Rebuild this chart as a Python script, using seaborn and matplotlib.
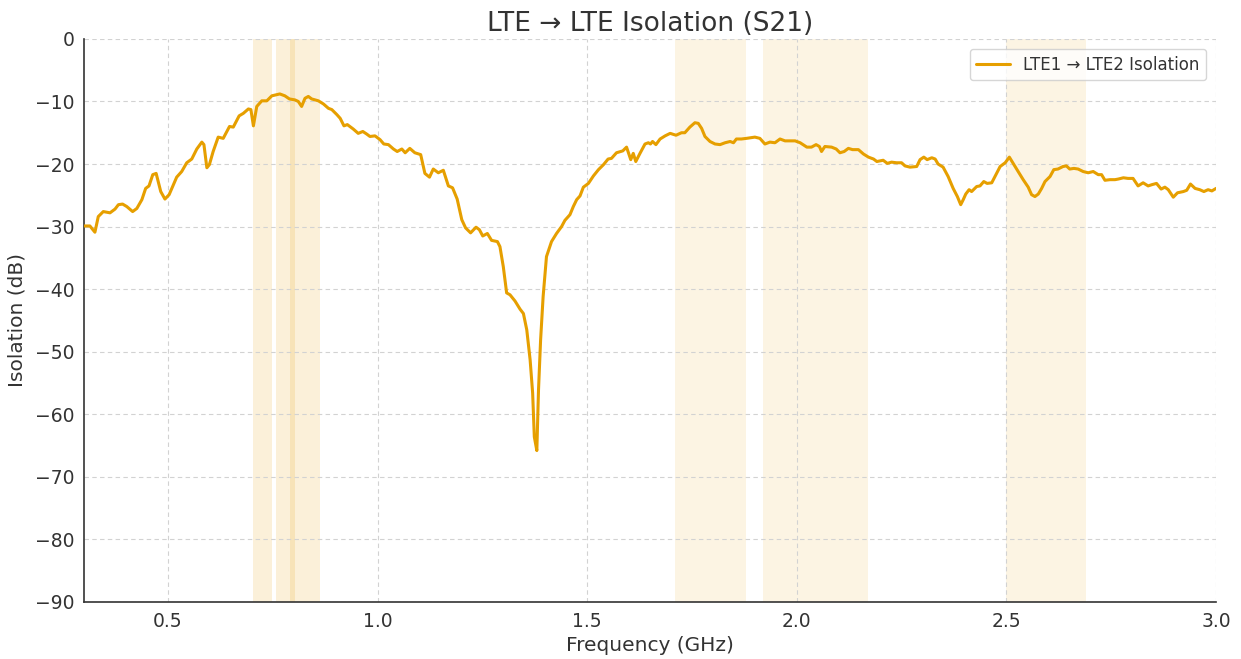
import numpy as np
import pandas as pd
import matplotlib
matplotlib.use("Agg")
import matplotlib.pyplot as plt
import seaborn as sns

# Frecuencia (GHz) y aislamiento (dB)
freq_ghz = [
    0.300, 0.314, 0.326, 0.334, 0.346, 0.362, 0.374, 0.382, 0.392, 0.402,
    0.416, 0.426, 0.438, 0.447, 0.455, 0.464, 0.472, 0.483, 0.493, 0.503,
    0.521, 0.533, 0.545, 0.557, 0.569, 0.581, 0.586, 0.593, 0.599, 0.608,
    0.620, 0.632, 0.647, 0.656, 0.670, 0.680, 0.692, 0.698, 0.704, 0.712,
    0.724, 0.736, 0.748, 0.767, 0.779, 0.790, 0.803, 0.811, 0.819, 0.827,
    0.835, 0.843, 0.859, 0.871, 0.883, 0.891, 0.903, 0.911, 0.920, 0.928,
    0.942, 0.954, 0.965, 0.974, 0.982, 0.994, 1.006, 1.015, 1.026, 1.038,
    1.047, 1.058, 1.066, 1.077, 1.089, 1.103, 1.113, 1.124, 1.133, 1.145,
    1.157, 1.169, 1.179, 1.190, 1.201, 1.210, 1.222, 1.235, 1.243, 1.251,
    1.262, 1.272, 1.286, 1.292, 1.300, 1.308, 1.316, 1.328, 1.340, 1.348,
    1.356, 1.364, 1.370, 1.374, 1.380, 1.384, 1.389, 1.395, 1.403, 1.415,
    1.427, 1.439, 1.447, 1.459, 1.467, 1.475, 1.483, 1.491, 1.503, 1.515,
    1.527, 1.539, 1.550, 1.558, 1.570, 1.585, 1.594, 1.604, 1.610, 1.616,
    1.626, 1.638, 1.646, 1.651, 1.656, 1.664, 1.674, 1.686, 1.698, 1.712,
    1.725, 1.733, 1.745, 1.757, 1.765, 1.773, 1.781, 1.793, 1.805, 1.817,
    1.829, 1.841, 1.849, 1.856, 1.868, 1.880, 1.900, 1.912, 1.924, 1.936,
    1.948, 1.960, 1.972, 1.984, 1.996, 2.008, 2.024, 2.035, 2.046, 2.054,
    2.059, 2.067, 2.083, 2.094, 2.103, 2.113, 2.123, 2.133, 2.147, 2.159,
    2.171, 2.183, 2.191, 2.206, 2.216, 2.226, 2.238, 2.250, 2.258, 2.270,
    2.286, 2.294, 2.303, 2.311, 2.322, 2.330, 2.337, 2.349, 2.361, 2.373,
    2.383, 2.391, 2.397, 2.403, 2.411, 2.417, 2.429, 2.437, 2.446, 2.454,
    2.465, 2.472, 2.485, 2.497, 2.507, 2.516, 2.528, 2.540, 2.552, 2.560,
    2.568, 2.576, 2.584, 2.592, 2.604, 2.613, 2.623, 2.635, 2.643, 2.651,
    2.661, 2.671, 2.683, 2.695, 2.707, 2.719, 2.727, 2.735, 2.747, 2.759,
    2.767, 2.779, 2.790, 2.802, 2.814, 2.826, 2.838, 2.847, 2.858, 2.869,
    2.878, 2.886, 2.898, 2.908, 2.922, 2.930, 2.939, 2.950, 2.961, 2.971,
    2.981, 2.990, 3.000,
]
isolation_db = [
    -29.9, -29.9, -30.9, -28.4, -27.6, -27.8, -27.2, -26.5, -26.4, -26.8,
    -27.6, -27.1, -25.7, -23.9, -23.5, -21.7, -21.5, -24.4, -25.6, -24.9,
    -22.1, -21.2, -19.8, -19.2, -17.6, -16.5, -16.9, -20.6, -20.1, -18.0,
    -15.7, -15.9, -14.0, -14.1, -12.3, -11.9, -11.2, -11.3, -13.9, -10.8,
    -9.9, -9.9, -9.1, -8.8, -9.1, -9.6, -9.75, -10.0, -10.8, -9.5,
    -9.2, -9.6, -9.9, -10.4, -11.1, -11.3, -12.1, -12.7, -13.9, -13.7,
    -14.4, -15.1, -14.8, -15.2, -15.6, -15.5, -16.1, -16.8, -16.9, -17.6,
    -18.0, -17.6, -18.2, -17.5, -18.2, -18.5, -21.5, -22.1, -20.8, -21.4,
    -21.0, -23.5, -23.8, -25.6, -28.9, -30.2, -31.0, -30.1, -30.5, -31.5,
    -31.1, -32.2, -32.4, -33.2, -36.4, -40.6, -40.9, -41.9, -43.2, -43.9,
    -46.5, -51.3, -56.6, -63.6, -65.8, -56.1, -48.1, -41.2, -34.8, -32.4,
    -31.1, -30.0, -29.0, -28.1, -26.8, -25.7, -25.1, -23.7, -23.1, -21.9,
    -20.9, -20.1, -19.2, -19.1, -18.2, -17.9, -17.3, -19.3, -18.3, -19.6,
    -18.3, -16.8, -16.6, -16.8, -16.4, -16.9, -16.0, -15.5, -15.1, -15.4,
    -15.0, -15.0, -14.1, -13.4, -13.5, -14.3, -15.6, -16.4, -16.8, -16.9,
    -16.6, -16.4, -16.6, -16.0, -16.0, -15.9, -15.7, -15.9, -16.8, -16.5,
    -16.6, -16.0, -16.3, -16.3, -16.3, -16.6, -17.3, -17.3, -16.9, -17.2,
    -18.0, -17.2, -17.3, -17.6, -18.2, -18.0, -17.5, -17.7, -17.7, -18.4,
    -18.9, -19.2, -19.6, -19.4, -19.9, -19.7, -19.8, -19.8, -20.3, -20.5,
    -20.4, -19.3, -18.9, -19.3, -19.0, -19.2, -20.0, -20.5, -22.0, -23.9,
    -25.2, -26.5, -25.7, -24.8, -24.1, -24.4, -23.6, -23.5, -22.8, -23.1,
    -23.0, -22.1, -20.4, -19.8, -18.9, -19.9, -21.2, -22.5, -23.7, -24.9,
    -25.2, -24.8, -23.9, -22.8, -22.0, -20.9, -20.8, -20.4, -20.3, -20.8,
    -20.7, -20.8, -21.2, -21.4, -21.2, -21.7, -21.7, -22.6, -22.5, -22.5,
    -22.4, -22.2, -22.3, -22.3, -23.5, -23.0, -23.5, -23.3, -23.1, -24.0,
    -23.7, -24.1, -25.3, -24.6, -24.4, -24.2, -23.2, -23.9, -24.1, -24.4,
    -24.1, -24.3, -23.9,
]

# Bandas LTE sombreadas (GHz): bajas (700/800 MHz) y altas
low_band_start = [0.703, 0.758, 0.791]
low_band_stop = [0.748, 0.803, 0.862]
high_band_start = [1.710, 1.920, 2.500]
high_band_stop = [1.880, 2.170, 2.690]

line_color = "#E69F00"
text_color = "#333333"

df = pd.DataFrame({"freq": freq_ghz, "iso": isolation_db})

sns.set_style("ticks")
plt.rcParams["font.family"] = ["DejaVu Sans"]

fig = plt.figure(figsize=(12.41, 6.59), dpi=100)
ax = fig.add_axes([0.0677, 0.0865, 0.9122, 0.8545])

for f0, f1 in zip(low_band_start, low_band_stop):
    ax.axvspan(f0, f1, color=line_color, alpha=0.15, linewidth=0, zorder=0)
for f0, f1 in zip(high_band_start, high_band_stop):
    ax.axvspan(f0, f1, color=line_color, alpha=0.11, linewidth=0, zorder=0)

sns.lineplot(data=df, x="freq", y="iso", color=line_color, linewidth=2.2,
             label="LTE1 → LTE2 Isolation", ax=ax, zorder=3)

ax.set_xlim(0.3, 3.0)
ax.set_ylim(-90, 0)
ax.set_yticks(np.arange(-90, 1, 10))
ax.set_xticks([0.5, 1.0, 1.5, 2.0, 2.5, 3.0])
ax.grid(True, linestyle=(0, (4, 3)), color="#d2d2d2", linewidth=0.8, zorder=1)

ax.set_title("LTE → LTE Isolation (S21)", fontsize=19, color=text_color, pad=6)
ax.set_xlabel("Frequency (GHz)", fontsize=14.5, color=text_color, labelpad=4)
ax.set_ylabel("Isolation (dB)", fontsize=14.5, color=text_color, labelpad=6)
ax.tick_params(axis="both", labelsize=13.5, colors=text_color, length=0, pad=7)

for side in ["top", "right"]:
    ax.spines[side].set_visible(False)
for side in ["left", "bottom"]:
    ax.spines[side].set_color(text_color)
    ax.spines[side].set_linewidth(1.2)

leg = ax.legend(loc="upper right", fontsize=12, frameon=True,
                borderaxespad=0.6)
for t in leg.get_texts():
    t.set_color(text_color)

fig.savefig("out.png", dpi=100)
